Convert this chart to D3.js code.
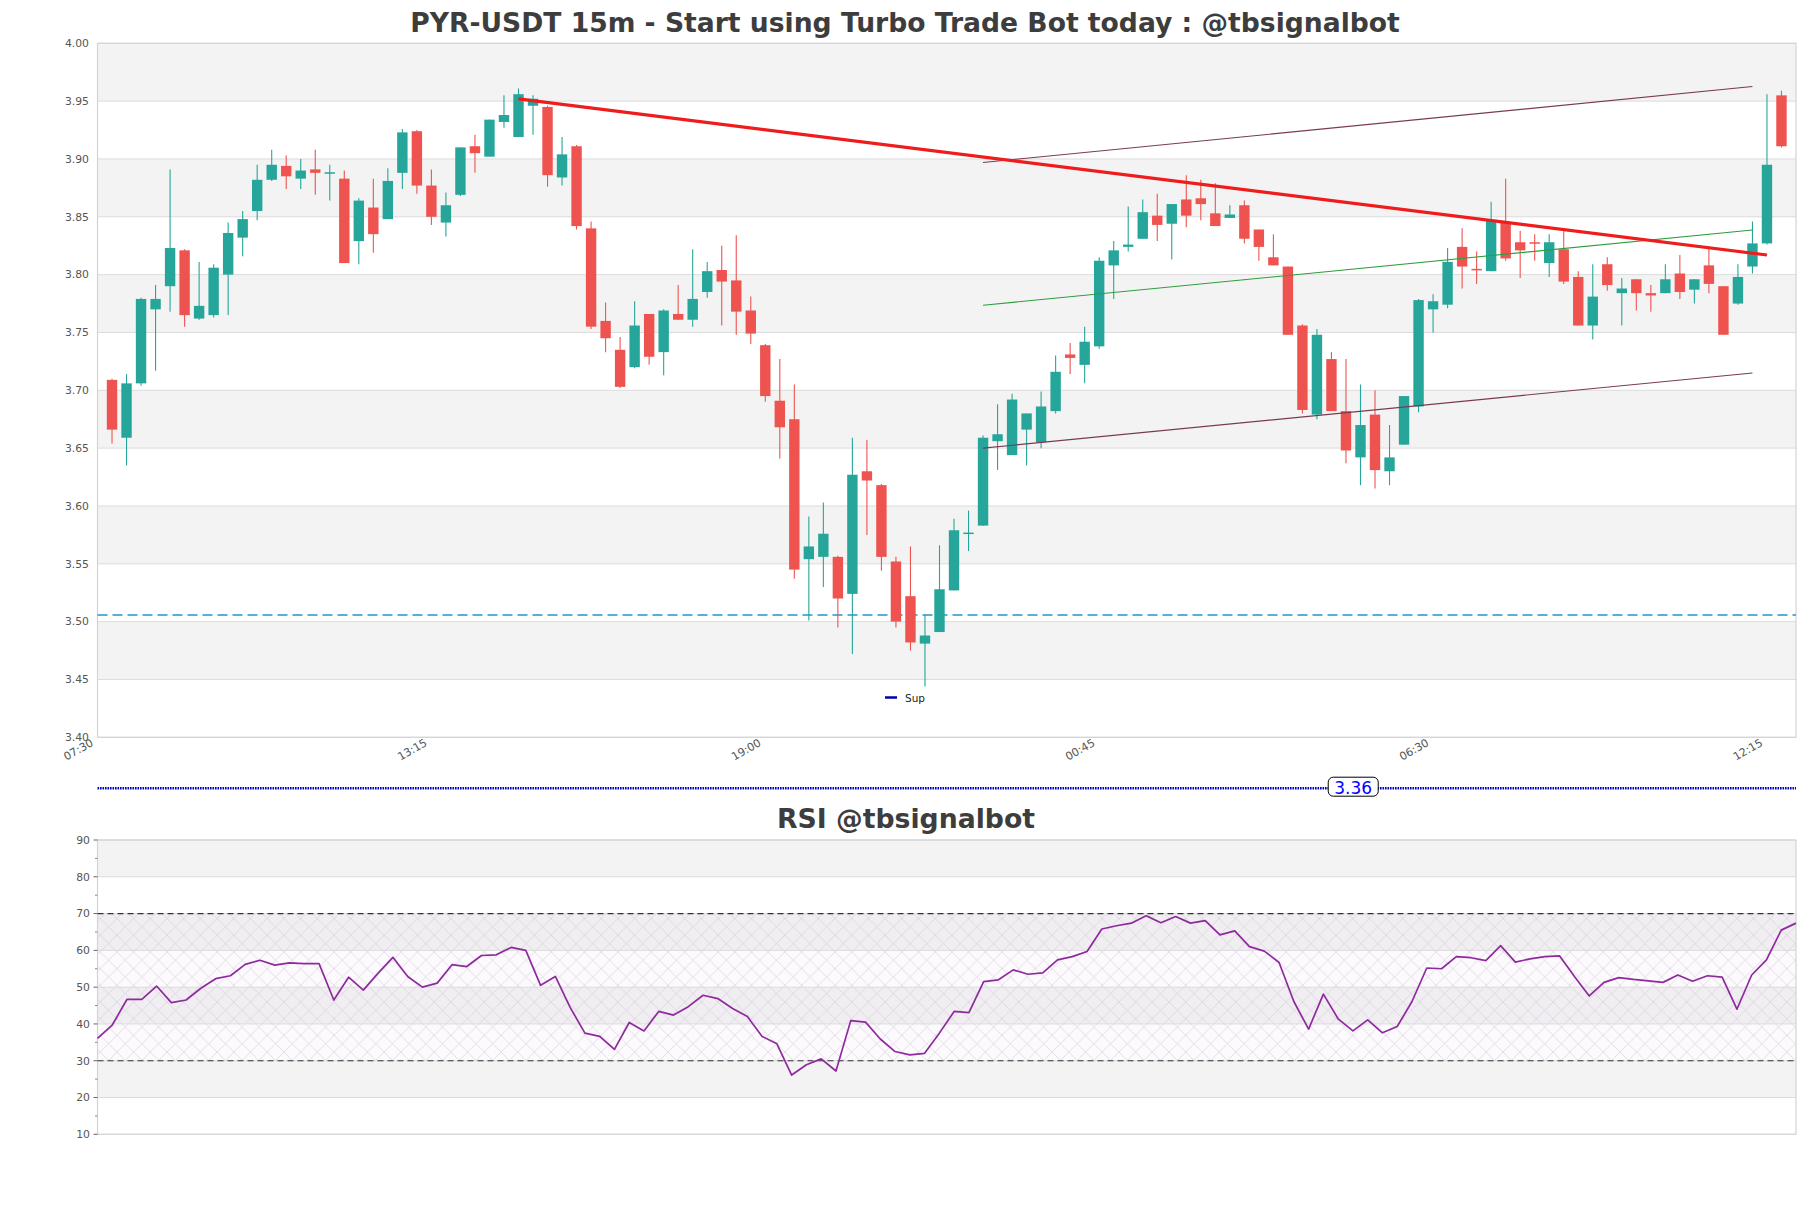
<!DOCTYPE html>
<html><head><meta charset="utf-8">
<script src="https://cdn.jsdelivr.net/npm/d3@7"></script>
<style>
html,body{margin:0;padding:0;background:#fff;}
svg{display:block;font-family:"DejaVu Sans",sans-serif;}
</style></head>
<body>
<svg id="c" width="1811" height="1208"></svg>
<script>
// ---------- DATA ----------
const open  = [3.709,3.659,3.706,3.770,3.790,3.821,3.762,3.765,3.800,3.832,3.855,3.882,3.894,3.883,3.891,3.8878,3.883,3.829,3.858,3.848,3.888,3.924,3.877,3.845,3.869,3.911,3.902,3.932,3.919,3.946,3.945,3.884,3.911,3.840,3.760,3.735,3.720,3.766,3.733,3.766,3.761,3.785,3.804,3.795,3.769,3.739,3.691,3.675,3.554,3.556,3.556,3.524,3.630,3.618,3.552,3.522,3.481,3.491,3.527,3.576,3.583,3.656,3.644,3.666,3.655,3.682,3.731,3.722,3.738,3.808,3.824,3.831,3.851,3.844,3.865,3.866,3.853,3.849,3.860,3.839,3.815,3.807,3.756,3.679,3.727,3.682,3.642,3.679,3.630,3.653,3.686,3.770,3.774,3.824,3.805,3.803,3.845,3.828,3.828,3.810,3.822,3.798,3.756,3.809,3.784,3.796,3.784,3.784,3.801,3.787,3.808,3.790,3.775,3.807,3.827,3.955];
const high  = [3.710,3.714,3.780,3.791,3.891,3.822,3.811,3.809,3.845,3.855,3.895,3.908,3.903,3.900,3.908,3.895,3.890,3.866,3.883,3.892,3.926,3.925,3.891,3.871,3.910,3.921,3.934,3.955,3.961,3.955,3.946,3.919,3.912,3.846,3.776,3.746,3.777,3.766,3.770,3.791,3.822,3.811,3.825,3.834,3.781,3.740,3.727,3.705,3.591,3.603,3.557,3.659,3.657,3.619,3.556,3.565,3.506,3.566,3.589,3.596,3.661,3.688,3.697,3.680,3.699,3.730,3.741,3.755,3.815,3.829,3.859,3.865,3.870,3.861,3.886,3.882,3.879,3.860,3.864,3.839,3.835,3.807,3.757,3.753,3.733,3.727,3.705,3.700,3.670,3.695,3.779,3.783,3.823,3.840,3.820,3.863,3.883,3.838,3.835,3.835,3.840,3.803,3.809,3.815,3.797,3.796,3.791,3.809,3.817,3.796,3.824,3.790,3.809,3.846,3.956,3.959];
const low   = [3.654,3.635,3.704,3.717,3.768,3.755,3.761,3.763,3.765,3.816,3.847,3.881,3.874,3.874,3.869,3.864,3.810,3.809,3.819,3.848,3.874,3.870,3.843,3.833,3.868,3.888,3.902,3.927,3.919,3.921,3.876,3.877,3.839,3.753,3.733,3.702,3.719,3.722,3.713,3.761,3.755,3.780,3.756,3.748,3.740,3.690,3.641,3.537,3.501,3.530,3.495,3.472,3.575,3.544,3.495,3.475,3.444,3.491,3.527,3.561,3.583,3.631,3.644,3.635,3.650,3.680,3.714,3.706,3.736,3.779,3.820,3.831,3.829,3.813,3.841,3.847,3.842,3.849,3.827,3.812,3.808,3.748,3.680,3.675,3.682,3.637,3.618,3.615,3.618,3.653,3.681,3.750,3.771,3.788,3.792,3.803,3.812,3.797,3.812,3.798,3.792,3.756,3.744,3.786,3.756,3.769,3.768,3.784,3.779,3.775,3.784,3.748,3.774,3.801,3.826,3.910];
const close = [3.666,3.706,3.779,3.779,3.823,3.765,3.773,3.806,3.836,3.848,3.882,3.895,3.885,3.890,3.888,3.8885,3.810,3.864,3.835,3.881,3.923,3.877,3.850,3.860,3.910,3.905,3.934,3.938,3.956,3.952,3.886,3.904,3.842,3.755,3.745,3.703,3.756,3.729,3.769,3.761,3.779,3.803,3.794,3.768,3.749,3.695,3.668,3.545,3.565,3.576,3.520,3.627,3.622,3.556,3.500,3.482,3.488,3.528,3.579,3.577,3.659,3.662,3.692,3.680,3.686,3.716,3.728,3.742,3.812,3.821,3.826,3.854,3.843,3.861,3.851,3.861,3.842,3.852,3.831,3.824,3.808,3.748,3.683,3.748,3.682,3.648,3.670,3.631,3.642,3.695,3.778,3.777,3.811,3.807,3.804,3.847,3.814,3.821,3.827,3.828,3.794,3.756,3.781,3.791,3.788,3.784,3.782,3.796,3.785,3.796,3.792,3.748,3.798,3.827,3.895,3.911];

const rsi = [36.1,39.7,46.7,46.7,50.3,45.8,46.5,49.7,52.3,53.1,56.2,57.3,56.0,56.6,56.4,56.4,46.5,52.7,49.2,53.8,58.1,52.9,50.0,51.1,56.1,55.6,58.6,58.8,60.8,60.0,50.5,52.9,44.5,37.5,36.6,33.1,40.4,38.1,43.4,42.4,44.7,47.8,46.9,44.2,42.0,36.6,34.6,26.1,28.9,30.5,27.2,40.9,40.5,35.9,32.5,31.6,32.0,37.5,43.4,43.1,51.5,52.0,54.7,53.5,53.9,57.4,58.3,59.7,65.8,66.7,67.4,69.4,67.5,69.2,67.4,68.1,64.2,65.3,61.0,59.8,56.7,46.1,38.6,48.1,41.4,38.1,41.1,37.6,39.3,46.1,55.2,55.0,58.3,58.0,57.2,61.3,56.8,57.7,58.3,58.5,52.9,47.6,51.3,52.6,52.1,51.7,51.3,53.3,51.6,53.1,52.7,44.0,53.3,57.4,65.5,67.4];

const tickIdx    = [0,23,46,69,92,115];
const tickLabels = ["07:30","13:15","19:00","00:45","06:30","12:15"];
const priceTicks = [3.40,3.45,3.50,3.55,3.60,3.65,3.70,3.75,3.80,3.85,3.90,3.95,4.00];
const rsiTicks   = [10,20,30,40,50,60,70,80,90];

const resistance   = [[28,3.952],[114,3.817]];
const channelUpper = [[60,3.897],[113,3.9626]];
const channelMid   = [[60,3.7735],[113,3.8386]];
const channelLower = [[60,3.650],[113,3.715]];
const supportDash  = 3.5057;
const supLevel     = 3.356;
const supLabel     = "3.36";

const title    = "PYR-USDT 15m - Start using Turbo Trade Bot today : @tbsignalbot";
const rsiTitle = "RSI @tbsignalbot";

// ---------- LAYOUT ----------
const svg = d3.select("#c");
const L = 97.5, R = 1796;
const mTop = 43.3, mBot = 737.3;
const rTop = 840, rBot = 1134.3;

const x = d3.scaleLinear().domain([-1,116]).range([L,R]);
const y = d3.scaleLinear().domain([3.40,4.00]).range([mBot,mTop]);
const xr = d3.scaleLinear().domain([0,rsi.length-1]).range([L,R]);
const yr = d3.scaleLinear().domain([10,90]).range([rBot,rTop]);

const GREEN="#26a69a", RED="#ef5350", GRID="#dcdcdc", BAND="#f3f3f3";

svg.append("text").attr("x",905).attr("y",32).attr("text-anchor","middle")
  .attr("font-size",26.6).attr("font-weight","bold").attr("fill","#3d3d3d").text(title);
svg.append("text").attr("x",906).attr("y",828).attr("text-anchor","middle")
  .attr("font-size",26.7).attr("font-weight","bold").attr("fill","#3d3d3d").text(rsiTitle);

// ---------- MAIN PANEL ----------
const main = svg.append("g");
for (let i=0;i<priceTicks.length-1;i++){
  const lo=priceTicks[i], hi=priceTicks[i+1];
  const k = Math.round((4.00-hi)/0.05);
  if (k%2===0) main.append("rect").attr("x",L).attr("width",R-L)
     .attr("y",y(hi)).attr("height",y(lo)-y(hi)).attr("fill",BAND);
}
main.selectAll("line.grid").data(priceTicks).join("line")
  .attr("x1",L).attr("x2",R).attr("y1",d=>y(d)).attr("y2",d=>y(d))
  .attr("stroke",GRID).attr("stroke-width",1);
main.append("rect").attr("x",L).attr("y",mTop).attr("width",R-L).attr("height",mBot-mTop)
  .attr("fill","none").attr("stroke","#d4d4d4").attr("stroke-width",1.2);

main.selectAll("text.yl").data(priceTicks).join("text")
  .attr("x",89).attr("y",d=>y(d)+3.8).attr("text-anchor","end")
  .attr("font-size",10.8).attr("fill","#555").text(d=>d.toFixed(2));

main.selectAll("text.xl").data(tickIdx).join("text")
  .attr("transform",d=>`translate(${x(d)-18},${745}) rotate(-30)`)
  .attr("text-anchor","end").attr("font-size",11).attr("fill","#555")
  .text((d,i)=>tickLabels[i]);

main.append("line").attr("x1",L).attr("x2",R).attr("y1",y(supportDash)).attr("y2",y(supportDash))
  .attr("stroke","#2196c8").attr("stroke-width",1.4).attr("stroke-dasharray","10,5");

const idx = d3.range(open.length);
const bw = 10.4;
const cg = main.append("g");
cg.selectAll("line.wick").data(idx).join("line")
  .attr("x1",i=>x(i)).attr("x2",i=>x(i)).attr("y1",i=>y(high[i])).attr("y2",i=>y(low[i]))
  .attr("stroke",i=>close[i]>=open[i]?GREEN:RED).attr("stroke-width",1.1);
cg.selectAll("rect.body").data(idx).join("rect")
  .attr("x",i=>x(i)-bw/2).attr("width",bw)
  .attr("y",i=>y(Math.max(open[i],close[i])))
  .attr("height",i=>Math.max(1.5,Math.abs(y(open[i])-y(close[i]))))
  .attr("fill",i=>close[i]>=open[i]?GREEN:RED);

const ln = d3.line().x(d=>x(d[0])).y(d=>y(d[1]));
main.append("path").attr("d",ln(channelUpper)).attr("fill","none").attr("stroke","#7a3b50").attr("stroke-width",1.1);
main.append("path").attr("d",ln(channelLower)).attr("fill","none").attr("stroke","#7a3b50").attr("stroke-width",1.1);
main.append("path").attr("d",ln(channelMid)).attr("fill","none").attr("stroke","#2e9e3e").attr("stroke-width",1.1);
main.append("path").attr("d",ln(resistance)).attr("fill","none").attr("stroke","#ee1c1c").attr("stroke-width",3.2);

main.append("line").attr("x1",885).attr("x2",897).attr("y1",697.5).attr("y2",697.5)
  .attr("stroke","#0000aa").attr("stroke-width",2.5);
main.append("text").attr("x",905).attr("y",701.5).attr("font-size",10.5).attr("fill","#222").text("Sup");

main.append("line").attr("x1",L).attr("x2",R).attr("y1",y(supLevel)).attr("y2",y(supLevel))
  .attr("stroke","#0000cd").attr("stroke-width",2.6).attr("stroke-dasharray","1.6,0.9");
const lx = x(85.5), ly = y(supLevel);
main.append("rect").attr("x",lx-25).attr("y",ly-11).attr("width",50).attr("height",19).attr("rx",5)
  .attr("fill","#fff").attr("stroke","#000").attr("stroke-width",1);
main.append("text").attr("x",lx).attr("y",ly+5.5).attr("text-anchor","middle")
  .attr("font-size",17).attr("fill","#0000ff").text(supLabel);

// ---------- RSI PANEL ----------
const defs = svg.append("defs");
const pat = defs.append("pattern").attr("id","hx").attr("patternUnits","userSpaceOnUse")
  .attr("width",16.7).attr("height",16.7);
pat.append("path").attr("d","M0,0L16.7,16.7M16.7,0L0,16.7")
  .attr("stroke","#d5c8dc").attr("stroke-width",0.6).attr("fill","none");

const rp = svg.append("g");
for (let v=10; v<90; v+=10){
  const k = Math.round((90-(v+10))/10);
  if (k%2===0) rp.append("rect").attr("x",L).attr("width",R-L)
     .attr("y",yr(v+10)).attr("height",yr(v)-yr(v+10)).attr("fill",BAND);
}
rp.append("rect").attr("x",L).attr("width",R-L).attr("y",yr(70)).attr("height",yr(30)-yr(70))
  .attr("fill","rgba(150,90,170,0.028)");
rp.append("rect").attr("x",L).attr("width",R-L).attr("y",yr(70)).attr("height",yr(30)-yr(70))
  .attr("fill","url(#hx)");
rp.selectAll("line.g").data(rsiTicks).join("line")
  .attr("x1",L).attr("x2",R).attr("y1",d=>yr(d)).attr("y2",d=>yr(d))
  .attr("stroke",GRID).attr("stroke-width",1);
rp.append("rect").attr("x",L).attr("y",rTop).attr("width",R-L).attr("height",rBot-rTop)
  .attr("fill","none").attr("stroke","#d4d4d4").attr("stroke-width",1.2);
[30,70].forEach(v=>{
  rp.append("line").attr("x1",L).attr("x2",R).attr("y1",yr(v)).attr("y2",yr(v))
    .attr("stroke","#333").attr("stroke-width",1.2).attr("stroke-dasharray","6,4");
});
rp.selectAll("line.tk").data(rsiTicks).join("line")
  .attr("x1",L-4).attr("x2",L).attr("y1",d=>yr(d)).attr("y2",d=>yr(d)).attr("stroke","#666");
rp.selectAll("line.mtk").data(rsiTicks.slice(0,-1).map(d=>d+5)).join("line")
  .attr("x1",L-2.5).attr("x2",L).attr("y1",d=>yr(d)).attr("y2",d=>yr(d)).attr("stroke","#888");
rp.selectAll("text.yl").data(rsiTicks).join("text")
  .attr("x",90).attr("y",d=>yr(d)+3.8).attr("text-anchor","end")
  .attr("font-size",10.8).attr("fill","#555").text(d=>d);

rp.append("path").datum(rsi)
  .attr("d",d3.line().x((d,i)=>xr(i)).y(d=>yr(d)))
  .attr("fill","none").attr("stroke","#8e2a9e").attr("stroke-width",1.7).attr("stroke-linejoin","round");
</script>
</body></html>
